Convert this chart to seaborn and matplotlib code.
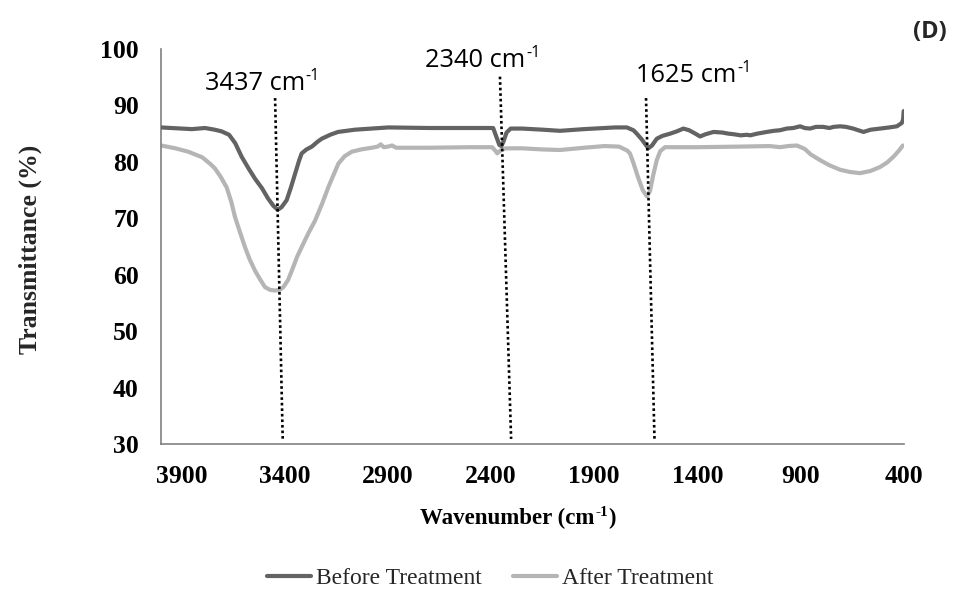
import numpy as np
import pandas as pd
import matplotlib
matplotlib.use("Agg")
import matplotlib.pyplot as plt
import seaborn as sns

# FTIR transmittance spectra (wavenumber in cm-1, transmittance in %)
before_wn = [4000, 3900, 3850, 3787, 3740, 3706, 3670, 3640, 3609, 3575, 3544, 3510,
             3481, 3455, 3434, 3415, 3391, 3370, 3350, 3330, 3318, 3295, 3269, 3240,
             3221, 3180, 3142, 3060, 2979, 2898, 2700, 2500, 2390, 2375, 2360, 2350,
             2340, 2325, 2305, 2250, 2150, 2066, 1950, 1800, 1742, 1710, 1694, 1670,
             1650, 1638, 1620, 1597, 1570, 1532, 1500, 1468, 1440, 1410, 1387, 1360,
             1322, 1280, 1250, 1225, 1190, 1160, 1144, 1110, 1064, 1030, 1000, 967,
             935, 902, 880, 854, 825, 791, 760, 740, 708, 680, 645, 620, 595, 560,
             514, 470, 433, 409, 403, 400]
before_t = [86.1, 85.9, 85.8, 86.0, 85.7, 85.4, 84.8, 83.3, 80.9, 78.8, 77.0, 75.3,
            73.5, 72.2, 71.5, 72.0, 73.2, 75.5, 77.9, 80.3, 81.5, 82.2, 82.7, 83.6,
            84.1, 84.8, 85.3, 85.7, 85.9, 86.1, 86.0, 86.0, 86.0, 84.5, 83.0, 82.8,
            83.6, 85.2, 85.9, 85.9, 85.7, 85.5, 85.8, 86.1, 86.1, 85.6, 85.0, 84.0,
            83.0, 82.4, 82.9, 84.1, 84.6, 85.0, 85.4, 85.9, 85.6, 85.0, 84.5, 84.9,
            85.3, 85.2, 85.0, 84.9, 84.7, 84.8, 84.7, 85.0, 85.3, 85.5, 85.6, 85.9,
            86.0, 86.3, 86.0, 85.9, 86.2, 86.2, 86.0, 86.2, 86.3, 86.2, 85.9, 85.6,
            85.3, 85.7, 85.9, 86.1, 86.3, 86.9, 87.5, 89.0]

after_wn = [4000, 3930, 3868, 3800, 3760, 3738, 3710, 3682, 3660, 3641, 3615, 3593,
            3570, 3544, 3520, 3496, 3470, 3447, 3425, 3407, 3385, 3366, 3340, 3318,
            3285, 3253, 3220, 3189, 3160, 3140, 3110, 3075, 3030, 2979, 2950, 2935,
            2920, 2900, 2880, 2860, 2700, 2500, 2395, 2380, 2370, 2355, 2330, 2250,
            2150, 2066, 1950, 1850, 1780, 1740, 1727, 1710, 1688, 1665, 1645, 1630,
            1615, 1597, 1580, 1557, 1400, 1200, 1050, 999, 960, 918, 880, 850, 805,
            760, 708, 660, 611, 560, 514, 480, 450, 425, 404]
after_t = [82.9, 82.4, 81.8, 80.8, 79.6, 78.8, 77.3, 75.5, 73.0, 70.2, 67.3, 64.9,
           62.7, 60.7, 59.2, 57.8, 57.3, 57.2, 57.3, 57.8, 59.0, 60.7, 63.2, 64.9,
           67.4, 69.6, 72.5, 75.5, 78.0, 79.7, 81.0, 81.8, 82.2, 82.5, 82.7, 83.1,
           82.6, 82.7, 82.9, 82.5, 82.5, 82.6, 82.6, 82.0, 81.5, 82.0, 82.4, 82.4,
           82.2, 82.1, 82.5, 82.8, 82.7, 82.0, 81.5, 79.8, 77.3, 75.0, 73.9, 74.8,
           77.5, 80.3, 81.9, 82.6, 82.6, 82.7, 82.8, 82.6, 82.8, 82.9, 82.3, 81.3,
           80.3, 79.4, 78.6, 78.2, 78.0, 78.4, 79.1, 79.9, 80.9, 81.9, 82.9]

series_names = ["Before Treatment", "After Treatment"]
series_colors = {"Before Treatment": "#636363", "After Treatment": "#b5b5b5"}

# Marked absorption bands: label, guide line ends, label anchor
peak_labels = ["3437", "2340", "1625"]
peak_line_top = [(3447, 91.3), (2357, 95.1), (1649, 91.3)]
peak_line_bottom = [(3410, 30.9), (2303, 30.9), (1608, 30.9)]
peak_text_left = [(3787, 92.7), (2720, 96.8), (1697, 94.1)]

x_ticks = [3900, 3400, 2900, 2400, 1900, 1400, 900, 400]
y_ticks = [30, 40, 50, 60, 70, 80, 90, 100]

df = pd.concat([
    pd.DataFrame({"Wavenumber": before_wn, "Transmittance": before_t, "Sample": series_names[0]}),
    pd.DataFrame({"Wavenumber": after_wn, "Transmittance": after_t, "Sample": series_names[1]}),
], ignore_index=True)

sns.set_theme(style="white")
plt.rcParams["font.family"] = ["Liberation Serif", "DejaVu Serif"]

W, H = 957, 591
fig = plt.figure(figsize=(W / 100, H / 100), dpi=100)
ax = fig.add_axes([161 / W, 1 - 444 / H, (903.7 - 161) / W, (444 - 49) / H])

# light curve underneath, dark curve on top
for name, z in [("After Treatment", 2), ("Before Treatment", 3)]:
    sns.lineplot(data=df[df["Sample"] == name], x="Wavenumber", y="Transmittance",
                 color=series_colors[name], linewidth=3.0, sort=False, estimator=None,
                 ax=ax, zorder=z, label=name, legend=False)

for (xt, yt), (xb, yb) in zip(peak_line_top, peak_line_bottom):
    ax.plot([xt, xb], [yt, yb], color="black", linestyle=(0, (1, 1.1)),
            linewidth=1.9, zorder=5, solid_capstyle="butt")

ax.set_xlim(4000, 400)
ax.set_ylim(30, 100)
ax.set_xticks(x_ticks)
ax.set_yticks(y_ticks)
ax.set_xticklabels([str(v) for v in x_ticks], fontsize=18.5, fontweight="bold")
ax.set_yticklabels([str(v) for v in y_ticks], fontsize=18.5, fontweight="bold")
ax.set_xlabel("")
ax.set_ylabel("")
ax.tick_params(axis="both", which="both", direction="out", length=6, width=1.2,
               colors="#808080", labelcolor="black")
ax.tick_params(axis="x", pad=9)
ax.tick_params(axis="y", pad=10)
for s in ["top", "right"]:
    ax.spines[s].set_visible(False)
for s in ["left", "bottom"]:
    ax.spines[s].set_color("#808080")
    ax.spines[s].set_linewidth(1.2)
ax.grid(False)

fig.canvas.draw()
renderer = fig.canvas.get_renderer()


def text_with_sup(x_px, base_px, parts, raise_px, **kw):
    """Write text pieces left to right; pieces flagged as superscript are raised."""
    cur = x_px
    for s, is_sup, size in parts:
        y = base_px - (raise_px if is_sup else 0)
        t = fig.text(cur / W, 1 - y / H, s, ha="left", va="baseline", fontsize=size, **kw)
        bb = t.get_window_extent(renderer)
        cur = bb.x1 + 0.8


sans = ["Open Sans", "DejaVu Sans"]
for lab, (xd, yd) in zip(peak_labels, peak_text_left):
    px, py = ax.transData.transform((xd, yd))
    text_with_sup(px, H - py, [(lab + " cm", False, 18.3), ("-1", True, 11.5)],
                  raise_px=10, family=sans, color="black")

# axis titles
text_with_sup(420, 524, [("Wavenumber (cm", False, 16.5), ("-1", True, 11),
                         (")", False, 16.5)],
              raise_px=8.5, fontweight="bold", color="black")
fig.text(30 / W, 1 - 249 / H, "Transmittance (%)", ha="center", va="center",
         rotation=90, fontsize=18.5, fontweight="bold")
fig.text(930 / W, 1 - 32 / H, "(D)", ha="center", va="center", fontsize=17,
         fontweight="bold", family=sans)

handles, labels = ax.get_legend_handles_labels()
order = [labels.index(n) for n in series_names]
fig.legend([handles[i] for i in order], [labels[i] for i in order],
           loc="center", bbox_to_anchor=(490 / W, 1 - 578 / H), ncol=2, frameon=False,
           fontsize=17, handlelength=1.9, handletextpad=0.2, columnspacing=1.3)

fig.savefig("out.png", dpi=100)
